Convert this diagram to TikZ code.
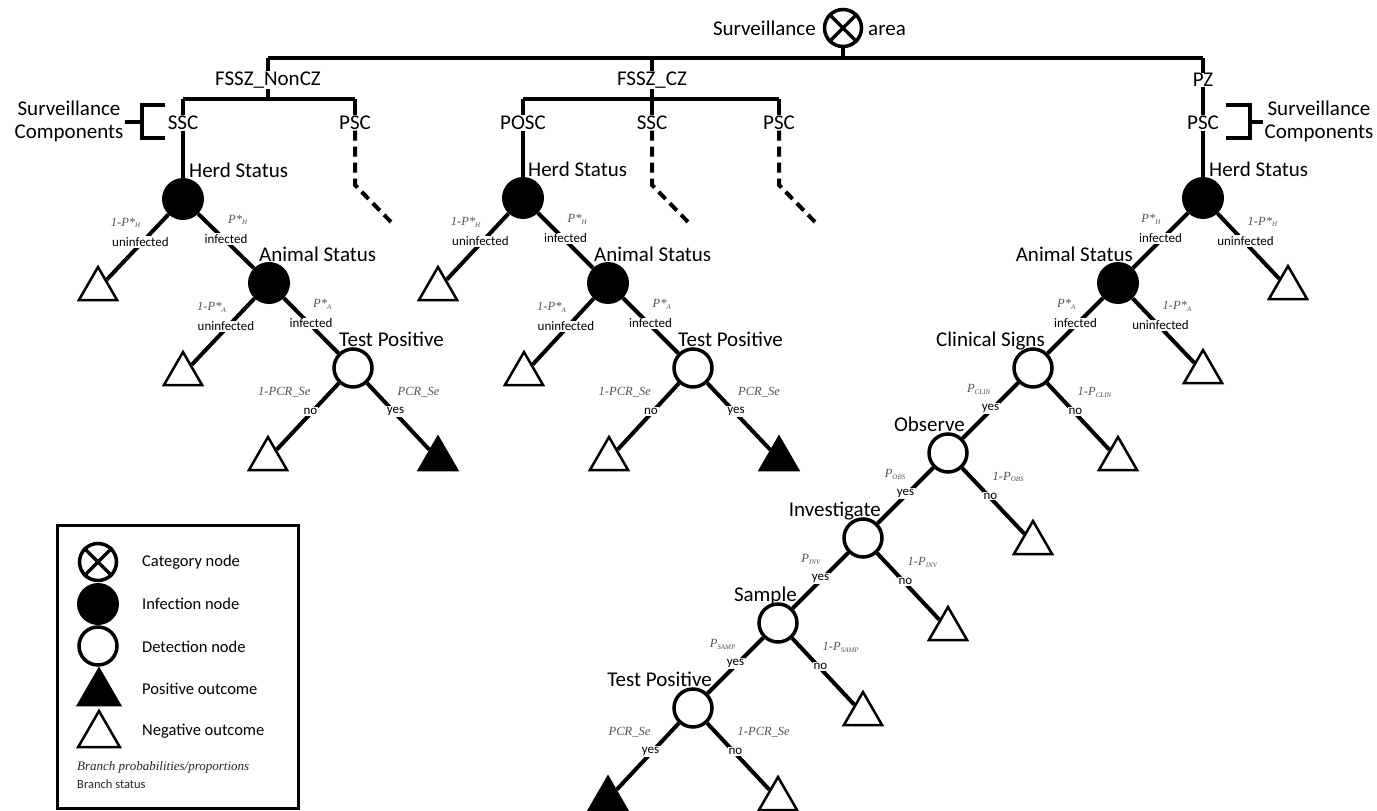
\documentclass[tikz,border=0pt]{standalone}
\usepackage{fontspec}
\setmainfont{Carlito}
\newfontfamily\probfont{Liberation Serif}
\usetikzlibrary{shapes.geometric}
\newcommand\sbs[1]{\raisebox{-0.3ex}{\fontsize{7}{7}\selectfont #1}}
\newcommand\brL[4]{\draw[br] (#1) -- (#2);
  \path (#1.center) -- node[midway,status,yshift=2]{#4} node[midway,prob,anchor=east,yshift=21,xshift=1]{#3} (#2.center);}
\newcommand\brR[4]{\draw[br] (#1) -- (#2);
  \path (#1.center) -- node[midway,status,yshift=2]{#4} node[midway,prob,anchor=west,yshift=21,xshift=1]{#3} (#2.center);}
\begin{document}
\begin{tikzpicture}[x=1pt,y=-1pt,
  big/.style={font=\fontsize{21}{23}\selectfont, inner sep=1},
  comp/.style={big, fill=white, inner sep=0.5},
  status/.style={font=\fontsize{13}{14}\selectfont, fill=white, inner sep=1},
  prob/.style={font=\probfont\itshape\fontsize{12.5}{13}\selectfont, text=black!68, inner sep=1},
  br/.style={line width=4},
  bar/.style={line width=3.5},
  dashln/.style={line width=4, dash pattern=on 10pt off 6pt},
  inf/.style={circle, fill=black, minimum size=42, inner sep=0},
  det/.style={circle, draw, line width=3.5, fill=white, minimum size=38, inner sep=0},
  cat/.style={circle, draw, line width=3.5, fill=white, minimum size=37, inner sep=0},
  negtri/.style={regular polygon, regular polygon sides=3, draw, line width=2.5, minimum size=44, inner sep=0, fill=white},
  postri/.style={negtri, fill=black},
  leg/.style={font=\fontsize{16.5}{18}\selectfont, anchor=west, inner sep=0}
]
\useasboundingbox (0,0) rectangle (1377,811);

% ---------- root ----------
\node[cat] (root) at (843,28) {};
\draw[line width=3.5] (root.north east) -- (root.south west);
\draw[line width=3.5] (root.north west) -- (root.south east);
\node[big, anchor=base east] (survL) at (817,35) {Surveillance};
\node[big, anchor=base west] (survR) at (867,35) {area};
\coordinate (barL) at (268,58);
\coordinate (barR) at (1203,58);
\coordinate (barM) at (652,58);
\coordinate (rootB) at (843,58);
\draw[bar] (root.south) -- (rootB);
\draw[bar] (barL) -- (barR);

% ---------- zones ----------
\node[comp] (z1) at (268,80) {FSSZ\_NonCZ};
\node[comp] (z2) at (652,80) {FSSZ\_CZ};
\node[comp] (z3) at (1203,80) {PZ};
\coordinate (s1a) at (183,99); \coordinate (s1m) at (268,99); \coordinate (s1b) at (355,99);
\coordinate (s2a) at (523,99); \coordinate (s2m) at (652,99); \coordinate (s2b) at (779,99);
\draw[bar] (barL) -- (z1.north); \draw[bar] (z1.south) -- (s1m);
\draw[bar] (barM) -- (z2.north); \draw[bar] (z2.south) -- (s2m);
\draw[bar] (barR) -- (z3.north);
\draw[bar] (s1a) -- (s1b);
\draw[bar] (s2a) -- (s2b);

% ---------- components ----------
\node[comp] (c11) at (183,123) {SSC};
\node[comp] (c12) at (355,123) {PSC};
\node[comp] (c21) at (523,123) {POSC};
\node[comp] (c22) at (652,123) {SSC};
\node[comp] (c23) at (779,123) {PSC};
\node[comp] (c31) at (1203,123) {PSC};
\draw[bar] (s1a) -- (c11.north); \draw[bar] (s1b) -- (c12.north);
\draw[bar] (s2a) -- (c21.north); \draw[bar] (s2m) -- (c22.north); \draw[bar] (s2b) -- (c23.north);
\draw[bar] (z3.south) -- (c31.north);

% dashed (unexpanded) components
\coordinate (d1) at (355,185); \coordinate (d1e) at (392,223);
\coordinate (d2) at (652,185); \coordinate (d2e) at (689,223);
\coordinate (d3) at (779,185); \coordinate (d3e) at (816,223);
\draw[dashln] (c12.south) -- (d1) -- (d1e);
\draw[dashln] (c22.south) -- (d2) -- (d2e);
\draw[dashln] (c23.south) -- (d3) -- (d3e);

% brackets
\node[big, align=center] (sc1) at (69,121) {Surveillance\\Components};
\node[big, align=center] (sc2) at (1319,121) {Surveillance\\Components};
\coordinate (bk1) at (142,122);
\coordinate (bk2) at (1250,122);
\draw[bar] (165,105) -- (142,105) -- (142,138) -- (165,138);
\draw[bar] (sc1.east |- bk1) -- (bk1);
\draw[bar] (1226,105) -- (1250,105) -- (1250,138) -- (1226,138);
\draw[bar] (bk2) -- (sc2.west |- bk2);

% ---------- tree 1 : FSSZ_NonCZ / SSC ----------
\node[inf] (h1) at (183,199) {};
\node[big, anchor=base west] (h1l) at (188,177) {Herd Status};
\node[negtri] (t1) at (98,289) {};
\node[inf] (a1) at (269,283) {};
\node[big, anchor=base west] (a1l) at (258,261) {Animal Status};
\node[negtri] (t2) at (183,374) {};
\node[det] (p1) at (353,368) {};
\node[big, anchor=base west] (p1l) at (338,346) {Test Positive};
\node[negtri] (t3) at (268,459) {};
\node[postri] (t4) at (438,459) {};
\draw[br] (c11.south) -- (h1);
\brL{h1}{t1}{1-P*\sbs{H}}{uninfected}
\brR{h1}{a1}{P*\sbs{H}}{infected}
\brL{a1}{t2}{1-P*\sbs{A}}{uninfected}
\brR{a1}{p1}{P*\sbs{A}}{infected}
\brL{p1}{t3}{1-PCR\_Se}{no}
\brR{p1}{t4}{PCR\_Se}{yes}

% ---------- tree 2 : FSSZ_CZ / POSC ----------
\node[inf] (h2) at (523,198) {};
\node[big, anchor=base west] (h2l) at (527,176) {Herd Status};
\node[negtri] (t5) at (438,289) {};
\node[inf] (a2) at (608,283) {};
\node[big, anchor=base west] (a2l) at (593,261) {Animal Status};
\node[negtri] (t6) at (524,374) {};
\node[det] (p2) at (693,368) {};
\node[big, anchor=base west] (p2l) at (677,346) {Test Positive};
\node[negtri] (t7) at (609,459) {};
\node[postri] (t8) at (779,459) {};
\draw[br] (c21.south) -- (h2);
\brL{h2}{t5}{1-P*\sbs{H}}{uninfected}
\brR{h2}{a2}{P*\sbs{H}}{infected}
\brL{a2}{t6}{1-P*\sbs{A}}{uninfected}
\brR{a2}{p2}{P*\sbs{A}}{infected}
\brL{p2}{t7}{1-PCR\_Se}{no}
\brR{p2}{t8}{PCR\_Se}{yes}

% ---------- tree 3 : PZ / PSC ----------
\node[inf] (h3) at (1203,198) {};
\node[big, anchor=base west] (h3l) at (1208,176) {Herd Status};
\node[negtri] (t9) at (1288,288) {};
\node[inf] (a3) at (1118,283) {};
\node[big, anchor=base east] (a3l) at (1134,261) {Animal Status};
\node[negtri] (t10) at (1203,372) {};
\node[det] (cs) at (1033,368) {};
\node[big, anchor=base east] (csl) at (1046,346) {Clinical Signs};
\node[negtri] (t11) at (1118,459) {};
\node[det] (ob) at (948,453) {};
\node[big, anchor=base east] (obl) at (966,431) {Observe};
\node[negtri] (t12) at (1033,543) {};
\node[det] (iv) at (863,538) {};
\node[big, anchor=base east] (ivl) at (882,516) {Investigate};
\node[negtri] (t13) at (948,629) {};
\node[det] (sa) at (778,623) {};
\node[big, anchor=base east] (sal) at (798,601) {Sample};
\node[negtri] (t14) at (863,714) {};
\node[det] (tp) at (693,708) {};
\node[big, anchor=base east] (tpl) at (713,686) {Test Positive};
\node[postri] (t15) at (608,799) {};
\node[negtri] (t16) at (778,799) {};
\draw[br] (c31.south) -- (h3);
\brL{h3}{a3}{P*\sbs{H}}{infected}
\brR{h3}{t9}{1-P*\sbs{H}}{uninfected}
\brL{a3}{cs}{P*\sbs{A}}{infected}
\brR{a3}{t10}{1-P*\sbs{A}}{uninfected}
\brL{cs}{ob}{P\sbs{CLIN}}{yes}
\brR{cs}{t11}{1-P\sbs{CLIN}}{no}
\brL{ob}{iv}{P\sbs{OBS}}{yes}
\brR{ob}{t12}{1-P\sbs{OBS}}{no}
\brL{iv}{sa}{P\sbs{INV}}{yes}
\brR{iv}{t13}{1-P\sbs{INV}}{no}
\brL{sa}{tp}{P\sbs{SAMP}}{yes}
\brR{sa}{t14}{1-P\sbs{SAMP}}{no}
\brL{tp}{t15}{PCR\_Se}{yes}
\brR{tp}{t16}{1-PCR\_Se}{no}

% ---------- legend ----------
\draw[line width=3] (57,525) rectangle (298,808);
\node[cat] (lc) at (98,562) {};
\draw[line width=3.5] (lc.north east) -- (lc.south west);
\draw[line width=3.5] (lc.north west) -- (lc.south east);
\node[inf] (li) at (98,604) {};
\node[det] (ld) at (98,646) {};
\node[postri, minimum size=48] (lp) at (99,693) {};
\node[negtri, minimum size=48] (ln) at (99,735) {};
\node[leg] (lct) at (142,562) {Category node};
\node[leg] (lit) at (142,604) {Infection node};
\node[leg] (ldt) at (142,647) {Detection node};
\node[leg] (lpt) at (142,689) {Positive outcome};
\node[leg] (lnt) at (142,731) {Negative outcome};
\node[prob, text=black!85, anchor=west, font=\probfont\itshape\fontsize{13}{14}\selectfont] (lbp) at (76,767) {Branch probabilities/proportions};
\node[anchor=west, inner sep=1, font=\fontsize{12.5}{13}\selectfont, text=black!85] (lbs) at (76,784) {Branch status};
\end{tikzpicture}
\end{document}
